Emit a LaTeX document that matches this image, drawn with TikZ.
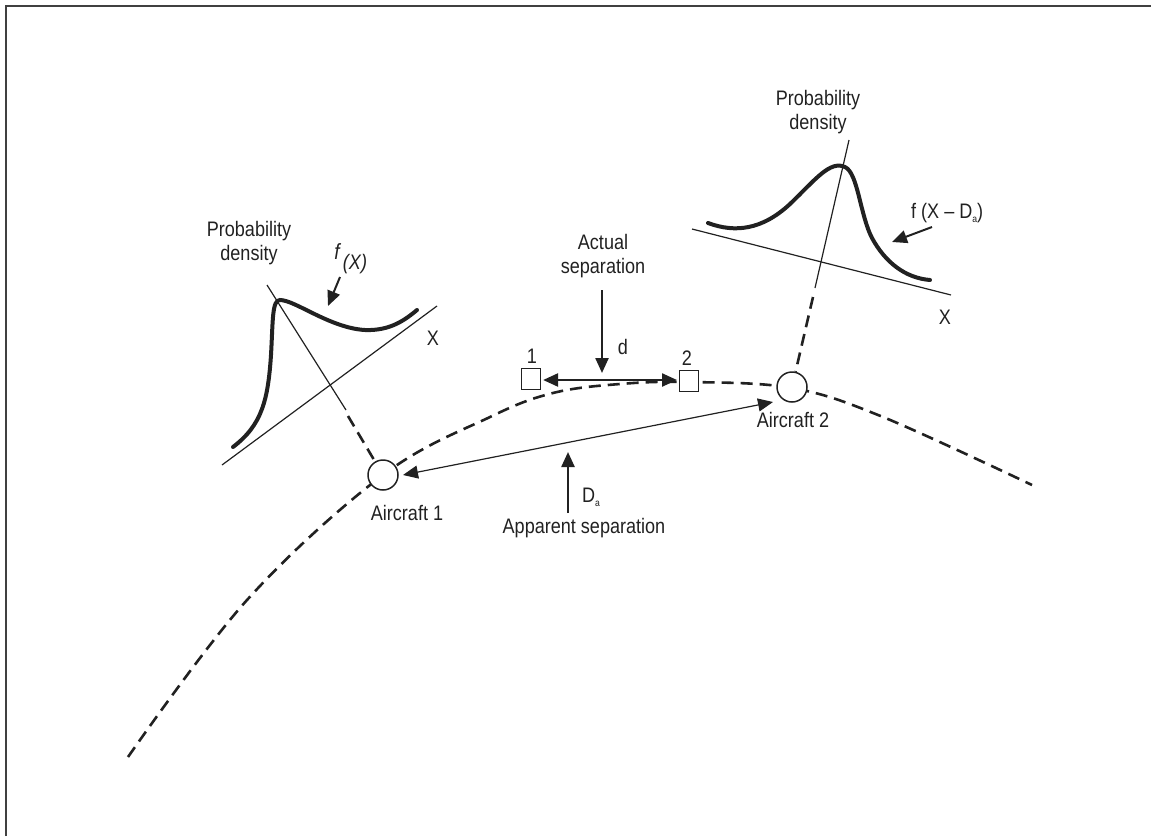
\documentclass[tikz,border=0pt]{standalone}
\usepackage{fontspec}
\setmainfont[FakeStretch=0.86]{Liberation Sans}
\usetikzlibrary{arrows.meta}
\definecolor{ink}{gray}{0.13}
\begin{document}
\begin{tikzpicture}[x=1pt,y=-1pt,
  lbl/.style={font=\fontsize{21}{24}\selectfont, text=ink, inner sep=0pt, align=center},
  track/.style={draw=ink, line width=2.6pt, dash pattern=on 12pt off 7pt},
  density/.style={draw=ink, line width=4pt, line cap=round},
  thin/.style={draw=ink, line width=1.2pt},
  bigtip/.tip={Triangle[length=15pt,width=13pt]},
  plane/.style={circle, draw=ink, line width=1.5pt, fill=white, minimum size=30pt, inner sep=0pt},
  marker/.style={rectangle, draw=ink, line width=1.2pt, fill=white, minimum width=19pt, minimum height=21pt, inner sep=0pt},
  pointer/.style={draw=ink, line width=2.4pt, -{bigtip}},
]
\useasboundingbox (0,0) rectangle (1151,836);
\draw[line width=2pt, black!75] (6,836) -- (6,6) -- (1151,6);

% flight track
\draw[track] plot[smooth, tension=0.6] coordinates
  {(128,757) (247,600) (383,475) (490,417) (553,393) (620,384) (689,382) (792,388) (883,417) (1032,485)};

% aircraft and position markers
\node[plane] (ac1) at (383,475) {};
\node[plane] (ac2) at (792,387) {};
\node[marker] (s1) at (531,379) {};
\node[marker] (s2) at (689,381) {};
\node[lbl] (n1) at (532,356) {1};
\node[lbl] (n2) at (687,358) {2};
\node[lbl] (lac1) at (407,513) {Aircraft 1};
\node[lbl] (lac2) at (793,420) {Aircraft 2};

% actual separation
\draw[line width=2.4pt, draw=ink, {bigtip}-{bigtip}] (s1.east) ++(2,1) coordinate (d1) (d1) -- (677,380) coordinate (d2);
\node[lbl] (act) at (603,256) {Actual\\separation};
\coordinate (acttip) at (602,373);
\draw[pointer] (602,290) -- (acttip);
\node[lbl] (dl) at (623,347) {d};

% apparent separation
\draw[thin, {bigtip}-{bigtip}] (ac1) ++(20,0) coordinate (a1) (a1) -- (773,402) coordinate (a2);
\coordinate (apptip) at (568,452);
\draw[pointer] (568,513) -- (apptip);
\node[lbl] (Da) at (591,497) {D\raisebox{-0.35ex}{\fontsize{10}{10}\selectfont a}};
\node[lbl] (app) at (584,528) {Apparent separation};

% left density
\coordinate (lx1) at (222,465);
\coordinate (lx2) at (437,306);
\draw[thin] (lx1) -- (lx2);
\coordinate (lp1) at (267,285);
\coordinate (lp2) at (346,410);
\draw[thin] (lp1) -- (lp2);
\draw[track] (348,416) -- (ac1);
\draw[density] (233,447) .. controls (262,425) and (268,400) .. (271,355)
  .. controls (273,320) and (272,300) .. (280,300)
  .. controls (295,300) and (330,328) .. (365,330)
  .. controls (390,331) and (405,320) .. (417,310);
\node[lbl] (pd1) at (249,243) {Probability\\density};
\node[lbl] (xl) at (433,338) {X};
% the function name sits a little above its argument
\node[lbl, font=\fontsize{22}{24}\selectfont\itshape] (fxf) at (337,252) {f};
\node[lbl, font=\fontsize{21}{24}\selectfont\itshape] (fxa) at (355,264) {(X)};
\draw[pointer, line width=2pt] (340,277) -- (328,306);

% right density
\coordinate (rx1) at (692,229);
\coordinate (rx2) at (951,295);
\draw[thin] (rx1) -- (rx2);
\coordinate (rp1) at (849,140);
\coordinate (rp2) at (815,288);
\draw[thin] (rp1) -- (rp2);
\draw[track] (813,297) -- (ac2);
\draw[density] (708,223) .. controls (735,233) and (762,230) .. (790,204)
  .. controls (815,180) and (830,160) .. (845,167)
  .. controls (858,173) and (860,215) .. (872,238)
  .. controls (885,262) and (905,278) .. (930,280);
\node[lbl] (pd2) at (818,112) {Probability\\density};
\node[lbl] (xr) at (945,317) {X};
\node[lbl, anchor=west] (fxd) at (911,213) {f (X -- D\raisebox{-0.35ex}{\fontsize{10}{10}\selectfont a})};
\draw[pointer, line width=2pt] (932,227) -- (892,242);
\end{tikzpicture}
\end{document}
